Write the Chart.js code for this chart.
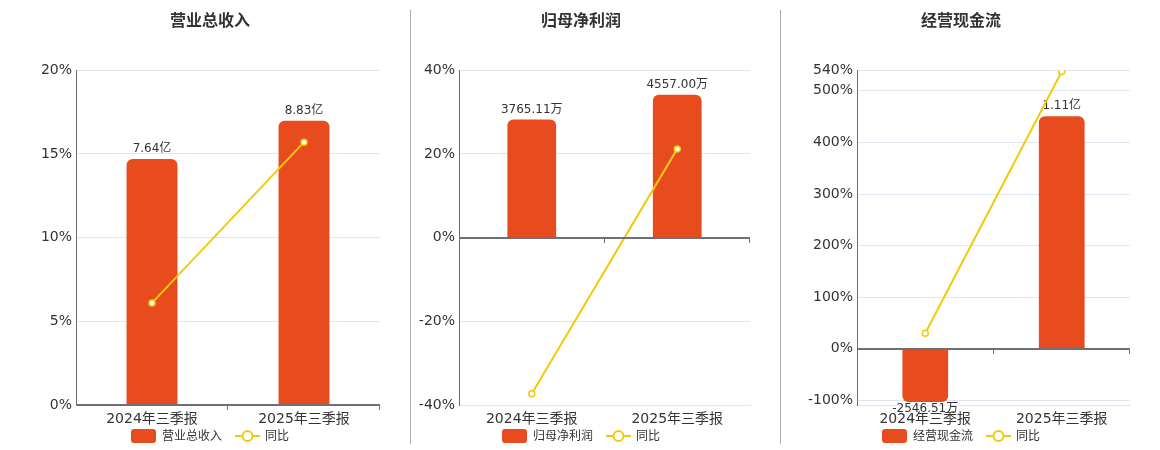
<!DOCTYPE html>
<html>
<head>
<meta charset="utf-8">
<script src="https://cdn.jsdelivr.net/npm/chart.js@4.4.0/dist/chart.umd.min.js"></script>
<style>
html, body { margin: 0; padding: 0; background: #fff; }
body { width: 1160px; height: 450px; position: relative; overflow: hidden; }
.box { position: absolute; top: 0; height: 450px; }
.sep { position: absolute; top: 10px; width: 1px; height: 434px; background: #aaa; }
</style>
</head>
<body>
<div class="box" style="left:0;width:400px"><canvas id="revenueChart"></canvas></div>
<div class="sep" style="left:410px"></div>
<div class="box" style="left:411px;width:360px"><canvas id="profitChart"></canvas></div>
<div class="sep" style="left:780px"></div>
<div class="box" style="left:782px;width:370px"><canvas id="cashChart"></canvas></div>
<script>
// Data (amounts in 万元, yoy in %)
const categories = ['2024年三季报', '2025年三季报'];
const revenueValues = [76400, 88300];
const revenueYoY = [6.1, 15.7];
const profitValues = [3765.11, 4557.00];
const profitYoY = [-37.3, 21.2];
const cashValues = [-2546.51, 11100];
const cashYoY = [30.0, 537.4];
const cashTicks = [540, 500, 400, 300, 200, 100, 0, -100];

const colors = {
    bar: '#e84c1e',
    line: '#f2ca0d',
    axis: '#6e7079',
    grid: '#e0e6f1',
    text: '#333'
};

const fontFamily = '"DejaVu Sans", "Noto Sans CJK SC", sans-serif';
Chart.defaults.font.family = fontFamily;
Chart.defaults.color = colors.text;

function formatAmount(v) {
    if (Math.abs(v) >= 10000) return (v / 10000).toFixed(2) + '亿';
    return v.toFixed(2) + '万';
}

// Axis line at zero with category boundary ticks
const zeroAxis = {
    id: 'zeroAxis',
    afterDatasetsDraw(chart) {
        const {ctx, chartArea: a, scales: {y}} = chart;
        const y0 = Math.round(y.getPixelForValue(0));
        const n = chart.data.labels.length;
        ctx.save();
        ctx.strokeStyle = colors.axis;
        ctx.lineWidth = 2;
        ctx.beginPath();
        ctx.moveTo(a.left, y0);
        ctx.lineTo(a.right, y0);
        ctx.stroke();
        ctx.lineWidth = 1;
        for (let i = 1; i <= n; i++) {
            const x = Math.round(a.left + (a.right - a.left) * i / n) - 0.5;
            ctx.beginPath();
            ctx.moveTo(x, y0);
            ctx.lineTo(x, y0 + 5);
            ctx.stroke();
        }
        ctx.restore();
    }
};

// Value labels on bars (drawn right after the bars, under the line)
const barLabels = {
    id: 'barLabels',
    afterDatasetDraw(chart, args) {
        if (args.index !== 0) return;
        const meta = chart.getDatasetMeta(0);
        const values = chart.data.datasets[0].data;
        const ctx = chart.ctx;
        ctx.save();
        ctx.font = '12px ' + fontFamily;
        ctx.fillStyle = colors.text;
        ctx.textAlign = 'center';
        meta.data.forEach((bar, i) => {
            const v = values[i];
            if (v >= 0) {
                ctx.textBaseline = 'bottom';
                ctx.fillText(formatAmount(v), bar.x, bar.y - 4);
            } else {
                ctx.textBaseline = 'top';
                ctx.fillText(formatAmount(v), bar.x, bar.y + 1);
            }
        });
        ctx.restore();
    }
};

// Legend row under the axis labels
const legendRow = {
    id: 'legendRow',
    afterDraw(chart) {
        const ctx = chart.ctx;
        const t = chart.titleBlock;
        const cx = (t.left + t.right) / 2;
        const cy = 436;
        const sets = chart.data.datasets;
        ctx.save();
        ctx.font = '12px ' + fontFamily;
        const w0 = ctx.measureText(sets[0].label).width;
        const w1 = ctx.measureText(sets[1].label).width;
        const total = 25 + 6 + w0 + 13 + 25 + 5 + w1;
        let x = cx - total / 2;
        // bar icon
        ctx.fillStyle = colors.bar;
        ctx.beginPath();
        ctx.roundRect(x, cy - 7, 25, 14, 3);
        ctx.fill();
        x += 31;
        ctx.fillStyle = colors.text;
        ctx.textBaseline = 'middle';
        ctx.fillText(sets[0].label, x, cy + 1);
        x += w0 + 13;
        // line icon
        ctx.strokeStyle = colors.line;
        ctx.lineWidth = 2;
        ctx.beginPath();
        ctx.moveTo(x, cy);
        ctx.lineTo(x + 25, cy);
        ctx.stroke();
        ctx.beginPath();
        ctx.arc(x + 12.5, cy, 5, 0, Math.PI * 2);
        ctx.fillStyle = '#fff';
        ctx.fill();
        ctx.stroke();
        x += 30;
        ctx.fillStyle = colors.text;
        ctx.fillText(sets[1].label, x, cy + 1);
        ctx.restore();
    }
};

function makeChart(id, title, name, values, yoy, opt) {
    return new Chart(document.getElementById(id), {
        data: {
            labels: categories,
            datasets: [{
                type: 'bar',
                label: name,
                data: values,
                yAxisID: 'yBar',
                order: 1,
                backgroundColor: colors.bar,
                borderRadius: 6,
                borderSkipped: 'start',
                barPercentage: 1,
                categoryPercentage: 0.335
            }, {
                type: 'line',
                label: '同比',
                data: yoy,
                yAxisID: 'y',
                order: 0,
                borderColor: colors.line,
                borderWidth: 2,
                pointRadius: 3,
                pointBorderWidth: 1.5,
                pointBackgroundColor: '#fff',
                pointBorderColor: colors.line
            }]
        },
        options: {
            responsive: true,
            maintainAspectRatio: false,
            animation: false,
            layout: {
                padding: { left: opt.padLeft, right: opt.padRight, top: 0, bottom: 22 }
            },
            plugins: {
                title: {
                    display: true,
                    text: title,
                    color: colors.text,
                    font: { size: 16, weight: 'bold' },
                    padding: { top: 12, bottom: 39 }
                },
                legend: { display: false },
                tooltip: { enabled: false }
            },
            scales: {
                x: {
                    grid: { display: false, drawTicks: false },
                    border: { color: colors.grid },
                    ticks: { color: colors.text, font: { size: 14 }, padding: 6, maxRotation: 0 },
                    afterFit: s => { s.height = 23; }
                },
                y: {
                    min: opt.yMin,
                    max: opt.yMax,
                    ticks: {
                        stepSize: opt.step,
                        color: colors.text,
                        font: { size: 14 },
                        padding: 4,
                        callback: v => v + '%'
                    },
                    grid: { color: colors.grid, drawTicks: false },
                    border: { color: colors.axis },
                    afterBuildTicks: opt.ticks ? (s => { s.ticks = opt.ticks.map(v => ({ value: v })); }) : undefined,
                    afterFit: s => { s.width = opt.axisWidth; }
                },
                yBar: {
                    display: false,
                    min: opt.barMin,
                    max: opt.barMax
                }
            }
        },
        plugins: [zeroAxis, barLabels, legendRow]
    });
}

makeChart('revenueChart', '营业总收入', '营业总收入', revenueValues, revenueYoY, {
    padLeft: 40, padRight: 20, axisWidth: 36,
    yMin: 0, yMax: 20, step: 5,
    barMin: 0, barMax: 104000
});
makeChart('profitChart', '归母净利润', '归母净利润', profitValues, profitYoY, {
    padLeft: 1, padRight: 21, axisWidth: 47,
    yMin: -40, yMax: 40, step: 20,
    barMin: -5338, barMax: 5338
});
makeChart('cashChart', '经营现金流', '经营现金流', cashValues, cashYoY, {
    padLeft: 10, padRight: 22, axisWidth: 65,
    yMin: -109, yMax: 540, step: 100, ticks: cashTicks,
    barMin: -2684, barMax: 13296
});
</script>
</body>
</html>
